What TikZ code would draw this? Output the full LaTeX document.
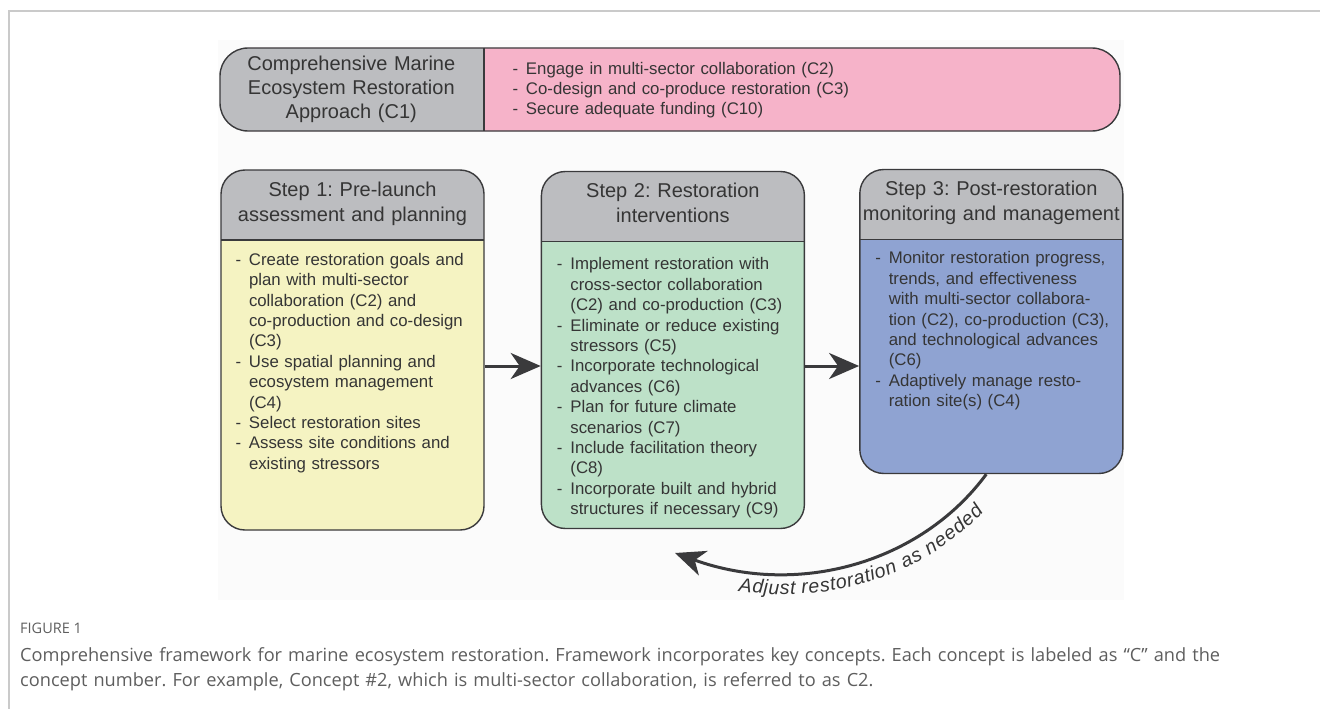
\documentclass[tikz,border=0pt]{standalone}
\usepackage{fontspec}
\setmainfont{Liberation Sans}
\newfontfamily\captionfont{Open Sans}
\usetikzlibrary{arrows.meta,positioning,decorations.text}

\definecolor{headgray}{HTML}{BCBDC0}
\definecolor{barpink}{HTML}{F6B3C9}
\definecolor{stepyellow}{HTML}{F5F3C2}
\definecolor{stepgreen}{HTML}{BDE1C8}
\definecolor{stepblue}{HTML}{8FA3D2}
\definecolor{boxline}{HTML}{3A3A3C}
\definecolor{textgray}{HTML}{353535}
\definecolor{framegray}{HTML}{CACACA}
\definecolor{capgray}{HTML}{5E5E5E}
\definecolor{paper}{HTML}{FBFBFB}

\frenchspacing
\newcommand\dashitem{\parindent=13.5pt\noindent\makebox[13.5pt][l]{-}}

\begin{document}
\begin{tikzpicture}[x=1pt,y=1pt]
\tikzstyle{topbar}=[draw=boxline, line width=1.4pt, fill=barpink, rounded corners=28pt, minimum width=900pt, minimum height=83pt, inner sep=0pt,
  path picture={\fill[headgray, sharp corners] (path picture bounding box.north west) rectangle ([xshift=264pt]path picture bounding box.south west);
    \draw[boxline, line width=1.4pt, sharp corners] ([xshift=264pt]path picture bounding box.north west) -- ([xshift=264pt]path picture bounding box.south west);}]
\tikzstyle{stepbox}=[draw=boxline, line width=1.4pt, rounded corners=24pt, minimum width=263pt, inner sep=0pt,
  path picture={\fill[headgray, sharp corners] (path picture bounding box.north west) rectangle ([yshift=-70pt]path picture bounding box.north east);
    \draw[boxline, line width=1.4pt, sharp corners] ([yshift=-70pt]path picture bounding box.north west) -- ([yshift=-70pt]path picture bounding box.north east);}]
\tikzstyle{headtext}=[text width=263pt, align=center, inner sep=0pt, anchor=base, font=\fontsize{20}{25}\selectfont, text=textgray]
\tikzstyle{listtext}=[text width=240pt, align=left, inner sep=0pt, anchor=base west, font=\fontsize{16.8}{20.4}\selectfont, text=textgray]
\tikzstyle{flowarrow}=[draw=boxline, line width=3pt, -{Stealth[length=30pt, width=26pt, inset=9pt]}]

\useasboundingbox (0,0) rectangle (1320,-709);
\fill[paper] (218,-40) rectangle (1124,-600);
\draw[framegray, line width=1.5pt] (9,-709) -- (9,-11) -- (1320,-11);

% approach bar
\node[topbar] (top) at (670,-89.5) {};
\node[headtext, text width=264pt, font=\fontsize{20}{24}\selectfont] (c1) at ([xshift=132pt,yshift=-23pt]top.north west) {Comprehensive Marine\\Ecosystem Restoration\\Approach (C1)};
\node[listtext, text width=600pt, font=\fontsize{16.8}{20}\selectfont] (aims) at ([xshift=293pt,yshift=-27pt]top.north west) {%
  \dashitem Engage in multi-sector collaboration (C2)\par
  \dashitem Co-design and co-produce restoration (C3)\par
  \dashitem Secure adequate funding (C10)};

% steps
\node[stepbox, fill=stepyellow, minimum height=360pt] (s1) at (352.5,-350) {};
\node[stepbox, fill=stepgreen, minimum height=357pt, right=56pt of s1] (s2) {};
\node[stepbox, fill=stepblue, minimum height=304pt, right=54pt of s2.north east, anchor=north west, yshift=2pt] (s3) {};

\node[headtext] (h1) at ([yshift=-27pt]s1.north) {Step 1: Pre-launch\\assessment and planning};
\node[headtext] (h2) at ([yshift=-27pt]s2.north) {Step 2: Restoration\\interventions};
\node[headtext] (h3) at ([yshift=-27pt]s3.north) {Step 3: Post-restoration\\monitoring and management};

\node[listtext] (l1) at ([xshift=15pt,yshift=-96pt]s1.north west) {%
  \dashitem Create restoration goals and\\plan with multi-sector\\collaboration (C2) and\\co-production and co-design\\(C3)\par
  \dashitem Use spatial planning and\\ecosystem management\\(C4)\par
  \dashitem Select restoration sites\par
  \dashitem Assess site conditions and\\existing stressors};
\node[listtext] (l2) at ([xshift=16pt,yshift=-99pt]s2.north west) {%
  \dashitem Implement restoration with\\cross-sector collaboration\\(C2) and co-production (C3)\par
  \dashitem Eliminate or reduce existing\\stressors (C5)\par
  \dashitem Incorporate technological\\advances (C6)\par
  \dashitem Plan for future climate\\scenarios (C7)\par
  \dashitem Include facilitation theory\\(C8)\par
  \dashitem Incorporate built and hybrid\\structures if necessary (C9)};
\node[listtext] (l3) at ([xshift=16pt,yshift=-95pt]s3.north west) {%
  \dashitem Monitor restoration progress,\\trends, and effectiveness\\with multi-sector collabora-\\tion (C2), co-production (C3),\\and technological advances\\(C6)\par
  \dashitem Adaptively manage resto-\\ration site(s) (C4)};

\draw[flowarrow] ([yshift=-16pt]s1.east) -- ([yshift=-16pt]s1.east -| s2.west);
\draw[flowarrow] ([yshift=-16pt]s2.east) -- ([yshift=-16pt]s2.east -| s3.west);

% feedback loop
\coordinate (back) at (675,-553);
\draw[flowarrow] ([xshift=-5pt]s3.south) .. controls (920,-564) and (797,-597) .. (back);
\path[decorate, decoration={text along path, reverse path, raise=-22pt, text color=textgray,
  text align={left indent=68pt}, text={|\fontsize{19.5}{24}\selectfont\itshape|Adjust restoration as needed}}]
  ([xshift=-5pt]s3.south) .. controls (920,-564) and (797,-597) .. (back);

% caption
\node[anchor=base west, inner sep=0pt, font=\captionfont\fontsize{14.5}{16}\selectfont, text=capgray] (fig) at (20,-633) {FIGURE 1};
\node[anchor=base west, inner sep=0pt, text width=1295pt, align=left, font=\captionfont\fontsize{18.2}{25}\selectfont, text=capgray] (cap) at (20,-661) {Comprehensive framework for marine ecosystem restoration. Framework incorporates key concepts. Each concept is labeled as “C” and the\\concept number. For example, Concept \#2, which is multi-sector collaboration, is referred to as C2.};
\end{tikzpicture}
\end{document}
